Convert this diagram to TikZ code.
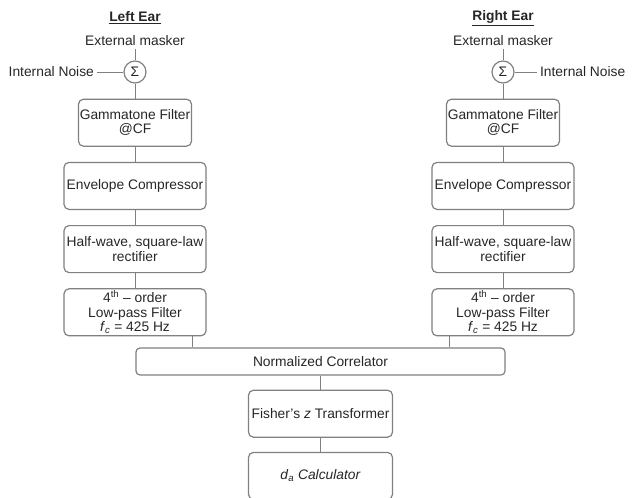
\documentclass[tikz,border=0pt]{standalone}
\usepackage{fontspec}
\setmainfont{Liberation Sans}
\usetikzlibrary{positioning}

\begin{document}
\begin{tikzpicture}[x=1pt, y=-1pt, node distance=15pt,
    font=\fontsize{13.8}{14.5}\selectfont, text=black!85,
    block/.style={draw=gray, rectangle, rounded corners=5pt, align=center,
        minimum width=142pt, minimum height=47pt, inner sep=1pt, line width=1.2pt},
    sumnode/.style={draw=gray, circle, minimum size=22pt, inner sep=0pt, line width=1.2pt},
    link/.style={draw=gray, line width=1pt}]
    \useasboundingbox (0,0) rectangle (632,498);

    % left ear
    \node at (135,18) (earL) {\underline{\textbf{Left Ear}}};
    \node [sumnode] at (135,72) (sumL) {Σ};
    \node [above=11pt of sumL] (extL) {External masker};
    \node [left=26pt of sumL] (noiseL) {Internal Noise};
    \node [block, minimum width=113pt, below=15pt of sumL] (gamL) {Gammatone Filter\\@CF};
    \node [block, below=of gamL] (envL) {Envelope Compressor};
    \node [block, below=of envL] (rectL) {Half-wave, square-law\\rectifier};
    \node [block, below=of rectL] (lpfL) {4\textsuperscript{th} – order\\Low-pass Filter\\\textit{f}\textsubscript{\textit{c}} = 425 Hz};

    % right ear
    \node at (503,18) (earR) {\underline{\textbf{Right Ear}}};
    \node [sumnode] at (503,72) (sumR) {Σ};
    \node [above=11pt of sumR] (extR) {External masker};
    \node [right=22pt of sumR] (noiseR) {Internal Noise};
    \node [block, minimum width=113pt, below=15pt of sumR] (gamR) {Gammatone Filter\\@CF};
    \node [block, below=of gamR] (envR) {Envelope Compressor};
    \node [block, below=of envR] (rectR) {Half-wave, square-law\\rectifier};
    \node [block, below=of rectR] (lpfR) {4\textsuperscript{th} – order\\Low-pass Filter\\\textit{f}\textsubscript{\textit{c}} = 425 Hz};

    % binaural stage
    \node [block, minimum width=369pt, minimum height=27pt, rounded corners=4pt] at (320.5,361.5) (corr) {Normalized Correlator};
    \node [block, minimum width=144pt, below=14pt of corr] (fisher) {Fisher's \textit{z} Transformer};
    \node [block, minimum width=144pt, below=14pt of fisher] (calc) {\textit{d}\textsubscript{\textit{a}} \textit{Calculator}};

    \draw [link] (extL) -- (sumL);
    \draw [link] (noiseL) -- (sumL);
    \draw [link] (sumL) -- (gamL);
    \draw [link] (gamL) -- (envL);
    \draw [link] (envL) -- (rectL);
    \draw [link] (rectL) -- (lpfL);
    \draw [link] ([xshift=-14pt]lpfL.south east) -- ([xshift=-14pt]lpfL.south east |- corr.north);

    \draw [link] (extR) -- (sumR);
    \draw [link] (noiseR) -- (sumR);
    \draw [link] (sumR) -- (gamR);
    \draw [link] (gamR) -- (envR);
    \draw [link] (envR) -- (rectR);
    \draw [link] (rectR) -- (lpfR);
    \draw [link] ([xshift=18pt]lpfR.south west) -- ([xshift=18pt]lpfR.south west |- corr.north);

    \draw [link] (corr) -- (fisher);
    \draw [link] (fisher) -- (calc);
\end{tikzpicture}
\end{document}
